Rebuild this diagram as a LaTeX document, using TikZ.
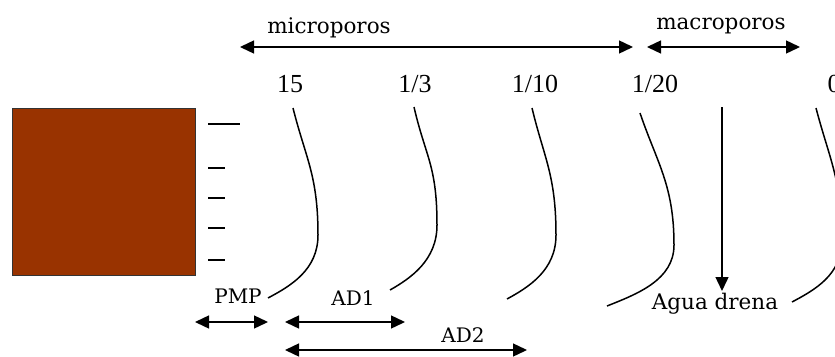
\documentclass[tikz,border=0pt]{standalone}
\usepackage{fontspec}
\setmainfont{DejaVu Serif}
\newfontfamily\numfont{Liberation Serif}
\usetikzlibrary{arrows.meta}
\definecolor{suelo}{RGB}{153,51,0}

\tikzset{
	flecha/.style={line width=1.4pt,<->},
	curva/.style={line width=1.5pt},
	etiq/.style={font=\fontsize{20}{20}\selectfont,anchor=base,inner sep=0pt},
	etiqlarga/.style={etiq,font=\fontsize{21.5}{21.5}\selectfont},
	valortens/.style={font=\numfont\fontsize{26}{26}\selectfont,anchor=base,inner sep=0pt}
}

\begin{document}
\begin{tikzpicture}[x=1pt,y=-1pt,>={Triangle[length=14pt,width=13pt]}]
			\useasboundingbox (0,0) rectangle (835,356);
			\clip (0,0) rectangle (835,356);
			
			% muestra de suelo
			\node[draw=black!80,fill=suelo,line width=0.8pt,inner sep=0pt,minimum width=183pt,minimum height=167pt] (suelo) at (103.5,191.5) {};
			\draw[line width=1.4pt] (208,124) -- (240,124);
			\foreach \y in {168,198,228,260}
			\draw[line width=1.4pt] (208,\y) -- (225,\y);
			
			% rangos de poros
			\coordinate (mi-a) at (240,47);
			\coordinate (mi-b) at (633,47);
			\coordinate (ma-a) at (647,47);
			\coordinate (ma-b) at (800,47);
			\draw[flecha] (mi-a) -- (mi-b);
			\draw[flecha] (ma-a) -- (ma-b);
			\node[etiqlarga] (micro) at (329,33) {microporos};
			\node[etiqlarga] (macro) at (721,29) {macroporos};
			
			% tensiones
			\node[valortens] (t15) at (290,92) {15};
			\node[valortens] (t3) at (415,92) {1/3};
			\node[valortens] (t10) at (535,92) {1/10};
			\node[valortens] (t20) at (655,92) {1/20};
			\node[valortens] (t0) at (834,92) {0};
			
			\foreach \tx/\ty/\bx/\by/\ex/\ey in {293/108/318/235/268/298,414/107/437/225/390/290,532/108/556/235/507/299,640/113/674/245/607/306,816/108/842/240/792/302}
			\draw[curva] (\tx,\ty) .. controls ({\tx+0.5*(\bx-\tx)},{\ty+50}) and (\bx,{\by-60}) .. (\bx,\by) .. controls (\bx,{\by+35}) and ({\ex+0.45*(\bx-\ex)},{\ey-12}) .. (\ex,\ey);
			
			% agua que drena
			\coordinate (dr-a) at (722,107);
			\coordinate (dr-b) at (722,291);
			\draw[line width=1.4pt,->] (dr-a) -- (dr-b);
			\node[etiqlarga] (drena) at (715,309) {Agua drena};
			
			% agua disponible
			\coordinate (pmp-a) at (195,322);
			\coordinate (pmp-b) at (268,322);
			\coordinate (ad1-a) at (285,322);
			\coordinate (ad1-b) at (405,322);
			\coordinate (ad2-a) at (285,350);
			\coordinate (ad2-b) at (527,350);
			\draw[flecha] (pmp-a) -- (pmp-b);
			\draw[flecha] (ad1-a) -- (ad1-b);
			\draw[flecha] (ad2-a) -- (ad2-b);
			\node[etiq] (pmp) at (238,303) {PMP};
			\node[etiq] (ad1) at (353,305) {AD1};
			\node[etiq] (ad2) at (463,342) {AD2};
\end{tikzpicture}
\end{document}
